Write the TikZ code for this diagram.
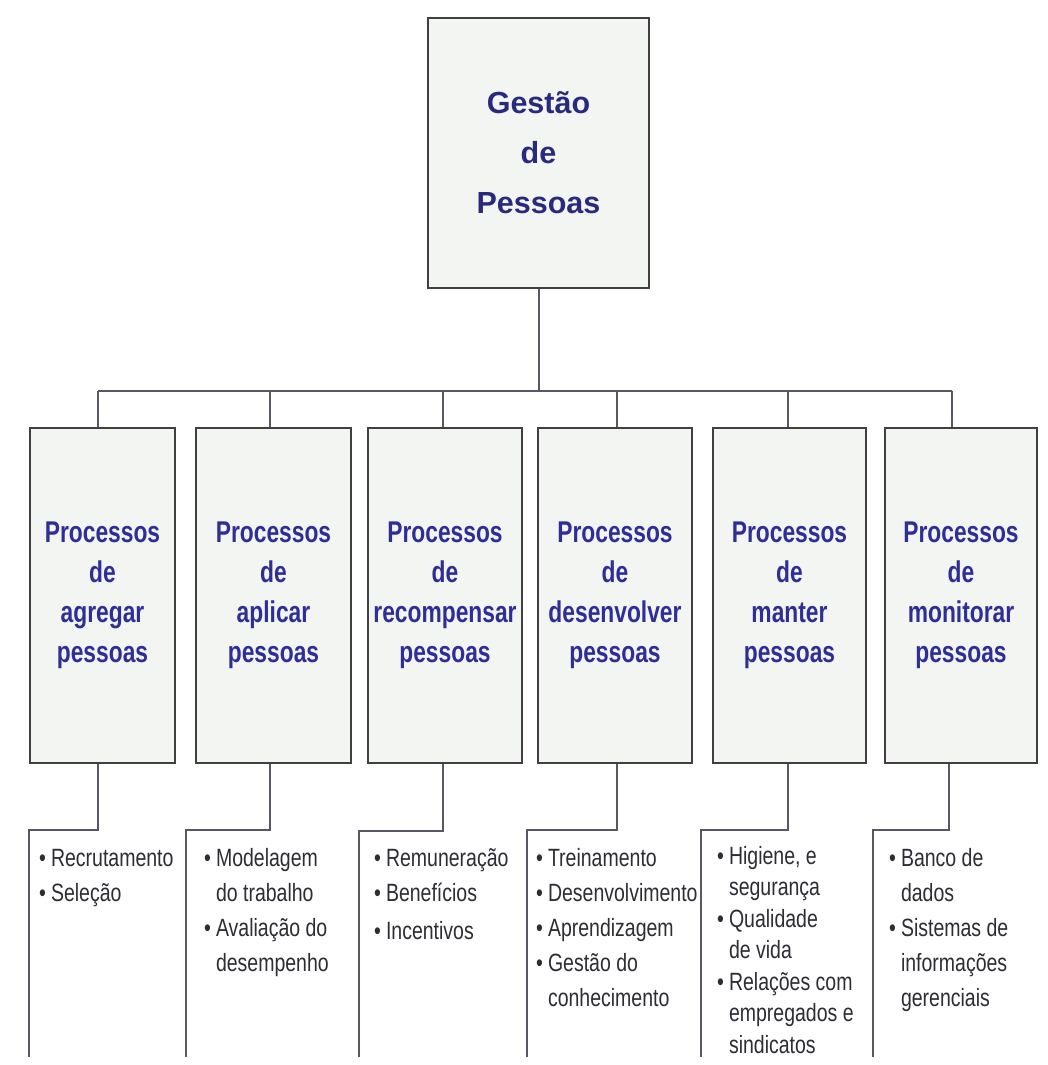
\documentclass[tikz,border=0pt]{standalone}
\usepackage{fontspec}
\setmainfont{Liberation Sans}
\newfontfamily\topfont{Liberation Sans}
\newfontfamily\titlefont[FakeStretch=0.76]{Liberation Sans}
\newfontfamily\listfont[FakeStretch=0.78]{Liberation Sans}
\definecolor{titleblue}{RGB}{46,46,150}
\definecolor{topblue}{RGB}{42,42,125}
\definecolor{listgray}{RGB}{45,45,52}
\definecolor{boxfill}{RGB}{243,245,243}
\definecolor{boxline}{RGB}{64,64,64}
\definecolor{connline}{RGB}{88,88,100}
\tikzset{
  topbox/.style={draw=boxline, line width=2.5pt, fill=boxfill, minimum width=221pt, minimum height=270pt, inner sep=0pt, align=center, text=topblue, font=\topfont\bfseries\fontsize{30.5}{50}\selectfont},
  procbox/.style={draw=boxline, line width=2.5pt, fill=boxfill, minimum height=335pt, inner sep=0pt, align=center, text=titleblue, font=\titlefont\bfseries\fontsize{30}{40}\selectfont},
  conn/.style={draw=connline, line width=2pt},
  listnode/.style={anchor=base west, inner sep=0pt, text=listgray, font=\listfont\fontsize{25}{35}\selectfont},
}
\newcommand{\bl}{\textbullet}
\begin{document}
\begin{tikzpicture}[x=1pt,y=-1pt]
\useasboundingbox[fill=white] (0,0) rectangle (1047,1065);

% top box
\node[topbox] (top) at (538.5,153) {Gestão\\de\\Pessoas};

% process boxes
\node[procbox, minimum width=145pt] (c1) at (102.5,595.5) {Processos\\de\\agregar\\pessoas};
\node[procbox, minimum width=155pt] (c2) at (273.5,595.5) {Processos\\de\\aplicar\\pessoas};
\node[procbox, minimum width=154pt] (c3) at (445,595.5) {Processos\\de\\recompensar\\pessoas};
\node[procbox, minimum width=154pt] (c4) at (615,595.5) {Processos\\de\\desenvolver\\pessoas};
\node[procbox, minimum width=153pt] (c5) at (789.5,595.5) {Processos\\de\\manter\\pessoas};
\node[procbox, minimum width=152pt] (c6) at (961,595.5) {Processos\\de\\monitorar\\pessoas};

% top connectors
\coordinate (d1) at (98,391);
\coordinate (d2) at (270,391);
\coordinate (d3) at (443,391);
\coordinate (d4) at (617,391);
\coordinate (d5) at (788,391);
\coordinate (d6) at (952,391);
\draw[conn] (top.south) -- (top.south |- d1);
\draw[conn] (d1) -- (d6);
\foreach \i in {1,...,6}{
  \draw[conn] (d\i) -- (d\i |- c\i.north);
}

% bottom connectors
\coordinate (e1) at (98,830);  \coordinate (f1) at (29,830);  \coordinate (g1) at (29,1057);
\coordinate (e2) at (270,830); \coordinate (f2) at (186,830); \coordinate (g2) at (186,1057);
\coordinate (e3) at (443,831); \coordinate (f3) at (359,831); \coordinate (g3) at (359,1057);
\coordinate (e4) at (617,830); \coordinate (f4) at (527,830); \coordinate (g4) at (527,1057);
\coordinate (e5) at (788,830); \coordinate (f5) at (701,830); \coordinate (g5) at (701,1057);
\coordinate (e6) at (949,830); \coordinate (f6) at (873,830); \coordinate (g6) at (873,1057);
\foreach \i in {1,...,6}{
  \draw[conn] (e\i |- c\i.south) -- (e\i) -- (f\i) -- (g\i);
}

% lists
\node[listnode] (l1) at (39,866) {\begin{tabular}[t]{@{}l@{\hspace{5pt}}l@{}}
\bl & Recrutamento\\
\bl & Seleção
\end{tabular}};
\node[listnode] (l2) at (204,866) {\begin{tabular}[t]{@{}l@{\hspace{5pt}}l@{}}
\bl & Modelagem\\
 & do trabalho\\
\bl & Avaliação do\\
 & desempenho
\end{tabular}};
\node[listnode] (l3) at (374,866) {\begin{tabular}[t]{@{}l@{\hspace{5pt}}l@{}}
\bl & Remuneração\\
\bl & Benefícios\\[3pt]
\bl & Incentivos
\end{tabular}};
\node[listnode] (l4) at (536,866) {\begin{tabular}[t]{@{}l@{\hspace{5pt}}l@{}}
\bl & Treinamento\\
\bl & Desenvolvimento\\
\bl & Aprendizagem\\
\bl & Gestão do\\
 & conhecimento
\end{tabular}};
\node[listnode, font=\listfont\fontsize{25}{31.5}\selectfont] (l5) at (717,864) {\begin{tabular}[t]{@{}l@{\hspace{5pt}}l@{}}
\bl & Higiene, e\\
 & segurança\\
\bl & Qualidade\\
 & de vida\\
\bl & Relações com\\
 & empregados e\\
 & sindicatos
\end{tabular}};
\node[listnode] (l6) at (889,866) {\begin{tabular}[t]{@{}l@{\hspace{5pt}}l@{}}
\bl & Banco de\\
 & dados\\
\bl & Sistemas de\\
 & informações\\
 & gerenciais
\end{tabular}};
\end{tikzpicture}
\end{document}
